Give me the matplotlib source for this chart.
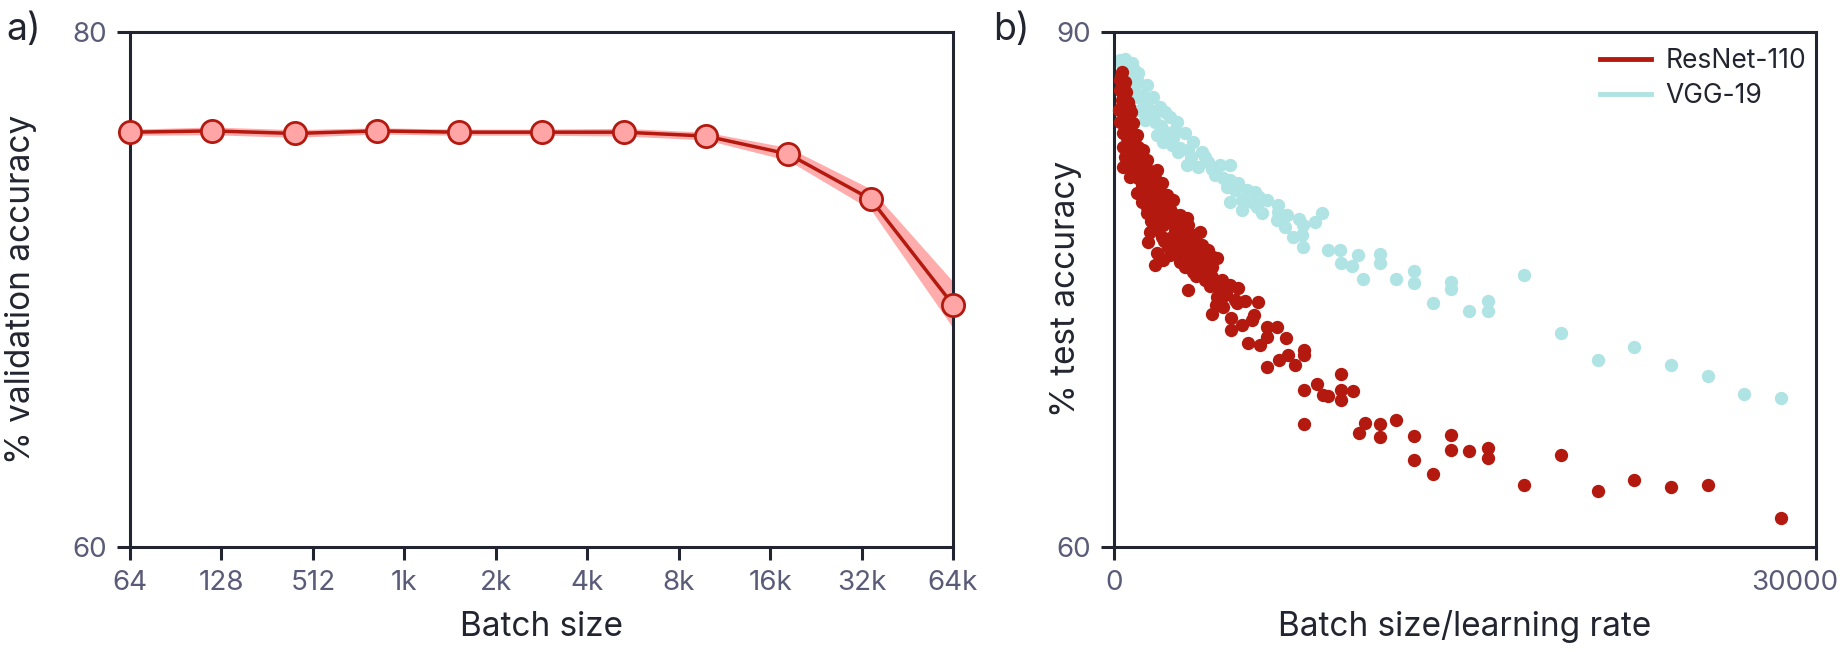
import numpy as np
import matplotlib
matplotlib.use("Agg")
import matplotlib.pyplot as plt
import matplotlib.transforms as mtransforms

plt.rcParams['font.family'] = ['Inter', 'DejaVu Sans']

# ---------------- data: panel a ----------------
batch_sizes = [64, 128, 256, 512, 1024, 2048, 4096, 8192, 16384, 32768, 65536]
val_acc = [76.1, 76.15, 76.05, 76.15, 76.1, 76.1, 76.1, 75.95, 75.25, 73.5, 69.4]
val_std = [0.12, 0.15, 0.15, 0.12, 0.12, 0.12, 0.15, 0.15, 0.25, 0.4, 0.9]
a_tick_labels = ['64', '128', '512', '1k', '2k', '4k', '8k', '16k', '32k', '64k']

# ---------------- data: panel b ----------------
resnet_x = [356, 256, 470, 256, 499, 328, 584, 214, 470, 727, 256, 541, 826, 399, 684, 969,
            399, 755, 1040, 1254, 470, 826, 1111, 1396, 399, 755, 1111, 1467, 1824,
            684, 1040, 1396, 1752, 2037, 969, 1254, 1610, 1966, 2251, 1182, 1539, 1895, 2251, 2536,
            1396, 1752, 2108, 2465, 2821, 3106, 1539, 1752, 2108, 2465, 2821, 3177,
            1467, 2037, 2393, 2750, 3106, 3462, 3676, 1824, 2322, 2678, 3035, 3391, 3747, 4032,
            1752, 2108, 2821, 3177, 3533, 3889, 4246, 4388, 3391, 3747, 4103, 4174,
            3889, 4317, 4602, 4958, 5314, 4388, 4744, 5172, 5599, 6169, 3149,
            300, 380, 400, 350, 620, 480, 690, 560, 880, 620, 950, 900, 1250, 850, 1250, 1600,
            1200, 1450, 1750, 2100, 1400, 1700, 2050, 2400, 1600, 1950, 2300, 2700, 1850, 2600,
            3000, 2150, 2550, 2900, 3300, 3550, 2400, 2950, 3300, 3700, 3050, 3550, 3950, 3500,
            3900, 4200, 4100, 4500, 4800,
            4340, 4667, 5240, 4177, 4994, 4994, 5485, 5976, 5894, 6548, 6957, 6548, 7333,
            5730, 6221, 6548, 7039, 7448, 7743, 8102, 8102, 8135, 8675, 8920, 9165,
            9689, 9689, 9689, 10229, 8135, 10474, 10719,
            11369, 11369, 12040, 12836, 12836, 13620, 14403, 14403, 15187, 15971, 15971,
            17537, 19105, 20673, 22238, 23806, 25374, 28508]
resnet_y = [87.67, 87.19, 87.09, 86.61, 86.51, 86.03, 85.93, 85.44, 85.48, 85.35, 84.76, 84.86, 84.67, 84.08, 84.18, 83.99,
            83.31, 83.41, 83.31, 83.11, 82.73, 82.63, 82.77, 82.53, 82.10, 82.05, 82.14, 81.95, 81.95,
            81.56, 81.47, 81.37, 81.47, 81.17, 80.59, 80.88, 80.79, 80.69, 80.49, 80.11, 80.01, 80.11, 80.01, 80.20,
            79.43, 79.33, 79.52, 79.43, 79.33, 79.14, 78.36, 78.85, 78.75, 78.85, 78.65, 78.75,
            77.78, 78.07, 77.97, 78.17, 78.07, 78.17, 78.36, 77.10, 77.49, 77.29, 77.39, 77.49, 77.59, 77.29,
            76.42, 76.71, 76.61, 76.71, 76.81, 76.71, 76.90, 76.81, 76.03, 76.13, 76.03, 76.32,
            75.55, 75.35, 75.55, 75.26, 75.06, 74.58, 74.67, 74.38, 74.34, 74.29, 74.97,
            87.4, 86.8, 86.3, 85.7, 85.6, 85.1, 84.5, 83.8, 83.8, 83.0, 82.9, 82.3, 82.4, 81.8, 81.7, 81.7,
            81.1, 80.4, 80.4, 80.3, 79.8, 79.7, 79.8, 79.7, 79.0, 79.1, 79.1, 79.0, 78.5, 78.4,
            78.4, 77.8, 77.7, 77.7, 77.8, 77.3, 77.0, 77.0, 77.1, 76.9, 76.3, 76.4, 76.4, 75.8,
            75.9, 75.7, 75.2, 75.1, 74.8,
            74.09, 74.00, 74.19, 73.55, 73.32, 72.64, 72.93, 73.51, 73.22, 72.83, 72.83, 72.25, 72.15,
            71.86, 71.76, 70.50, 70.89, 71.18, 70.60, 71.47, 71.18, 69.14, 69.49, 68.85, 68.80,
            70.06, 69.14, 68.56, 69.10, 67.17, 66.66, 67.20,
            67.16, 66.39, 67.38, 66.47, 65.07, 64.25, 66.54, 65.65, 65.60, 65.75, 65.17,
            63.61, 65.38, 63.26, 63.90, 63.51, 63.63, 61.68]

vgg_x = [256, 470, 755, 470, 826, 1040, 684, 1040, 1396, 898, 1254, 1681, 1111, 1467, 1966, 2180,
         1325, 1752, 2393, 2678, 1824, 2180, 2607, 3035, 2108, 2465, 2821, 3391, 2750, 3177, 3747, 3889,
         3106, 3604, 4032, 4530, 4958, 4317, 4673, 4958, 4815, 5172, 5670, 6027, 4958, 5457, 5884, 6525,
         5457, 6098, 6311, 7024, 7380, 6953, 7309, 8092, 8591, 8876, 7665, 8021, 8092, 9161, 9660, 10443,
         9702, 10186, 10657,
         600, 850, 1300, 1700, 2000, 2500, 3300, 4200, 5300, 6200, 7000, 7900, 350, 620,
         11369, 11369, 12040, 12836, 12836, 13620, 14403, 14403, 15187, 15971, 15971, 17537,
         19105, 20673, 22238, 23806, 25374, 26940, 28508]
vgg_y = [88.35, 88.39, 88.16, 87.77, 87.87, 87.58, 86.99, 87.09, 86.90, 86.22, 86.32, 86.22, 85.44, 85.54, 85.64, 85.35,
         84.86, 84.76, 85.05, 84.76, 83.99, 84.18, 84.28, 84.08, 83.60, 83.41, 83.21, 83.60, 83.02, 83.11, 83.02, 82.73,
         82.24, 82.14, 82.43, 82.24, 82.24, 81.66, 81.47, 81.37, 80.98, 80.79, 80.79, 80.69, 80.11, 80.20, 80.11, 80.20,
         79.62, 79.82, 79.43, 79.52, 79.33, 79.04, 78.65, 78.75, 78.94, 79.43, 78.07, 78.17, 77.49, 77.29, 77.29, 77.00,
         76.52, 76.36, 75.59,
         87.3, 86.6, 85.9, 85.2, 84.5, 83.8, 82.7, 82.0, 81.2, 80.4, 79.9, 79.1, 88.1, 88.0,
         77.04, 76.52, 75.60, 76.07, 75.35, 74.21, 75.40, 75.03, 73.74, 74.34, 73.76, 75.84,
         72.46, 70.89, 71.65, 70.60, 69.94, 68.93, 68.70]

# ---------------- styling ----------------
RED = '#B3190F'
PINK = '#FFA5A5'
BAND = '#FF9E9E'
CYAN = '#B0E3E4'
SPINE = '#22252F'
TICKC = '#5A5B78'
TEXTC = '#22252F'

W, H = 1845, 660
fig = plt.figure(figsize=(W / 100, H / 100), dpi=100)
axA = fig.add_axes([130 / W, 1 - 547 / H, (953 - 130) / W, (547 - 31.7) / H])
axB = fig.add_axes([1114 / W, 1 - 547 / H, (1816 - 1114) / W, (547 - 31.7) / H])

for ax in (axA, axB):
    for s in ax.spines.values():
        s.set_color(SPINE)
        s.set_linewidth(2.2)
    ax.tick_params(direction='out', length=9.5, width=2.2, color=SPINE,
                   labelsize=20, labelcolor=TICKC, pad=7)

# ---- panel a ----
xa = np.log2(batch_sizes) - np.log2(batch_sizes[0])
va = np.array(val_acc)
sa = np.array(val_std)
axA.fill_between(xa, va - sa, va + sa, color=BAND, alpha=0.85, lw=0, clip_on=False, zorder=2)
axA.plot(xa, va, color=RED, lw=2.5, marker='o', ms=16, mfc=PINK, mec=RED, mew=2.0,
         clip_on=False, zorder=3)
axA.set_xlim(xa[0], xa[-1])
axA.set_ylim(60, 80)
axA.set_yticks([60, 80])
axA.set_xticks(np.linspace(xa[0], xa[-1], len(a_tick_labels)))
axA.set_xticklabels(a_tick_labels)
axA.set_xlabel('Batch size', fontsize=24, color=TEXTC, va='center')
axA.xaxis.set_label_coords(0.5, -0.155)
axA.set_ylabel('% validation accuracy', fontsize=24, color=TEXTC, va='center')
axA.yaxis.set_label_coords(-0.132, 0.5)

# ---- panel b ----
axB.scatter(vgg_x, vgg_y, s=92, color=CYAN, lw=0, clip_on=False, zorder=2)
axB.scatter(resnet_x, resnet_y, s=92, color=RED, lw=0, clip_on=False, zorder=3)
axB.set_xlim(0, 30000)
axB.set_ylim(60, 90)
axB.set_yticks([60, 90])
axB.set_xticks([0, 30000])
axB.set_xticklabels(['0', '30000'])
lab = axB.get_xticklabels()[-1]
lab.set_transform(lab.get_transform() + mtransforms.ScaledTranslation(-0.21, 0, fig.dpi_scale_trans))
axB.set_xlabel('Batch size/learning rate', fontsize=24, color=TEXTC, va='center')
axB.xaxis.set_label_coords(0.5, -0.155)
axB.set_ylabel('% test accuracy', fontsize=24, color=TEXTC, va='center')
axB.yaxis.set_label_coords(-0.068, 0.5)

h1, = axB.plot([], [], color=RED, lw=3.5, label='ResNet-110')
h2, = axB.plot([], [], color=CYAN, lw=3.5, label='VGG-19')
leg = axB.legend(handles=[h1, h2], loc='upper left', bbox_to_anchor=(0.692, 0.968),
                 frameon=False, fontsize=19, handlelength=1.95, handletextpad=0.55,
                 labelspacing=0.35, borderpad=0, borderaxespad=0)
for t in leg.get_texts():
    t.set_color(TEXTC)

fig.text(6 / W, 1 - 30 / H, 'a)', fontsize=27, color=TEXTC, va='center', ha='left')
fig.text(993 / W, 1 - 30 / H, 'b)', fontsize=27, color=TEXTC, va='center', ha='left')

fig.savefig('out.png', dpi=100)
